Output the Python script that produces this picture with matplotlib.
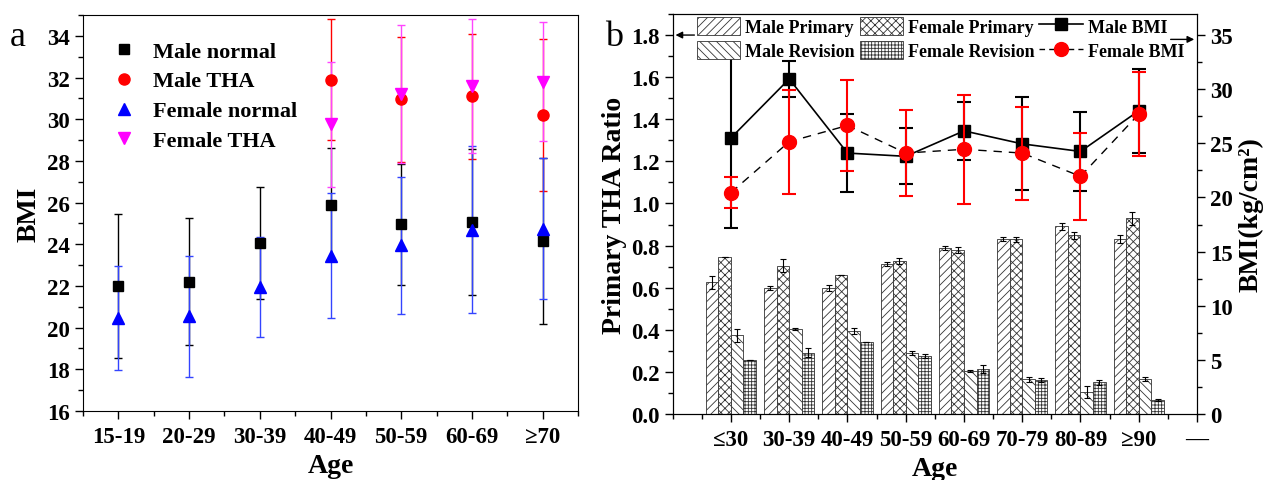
import matplotlib
matplotlib.use('Agg')
import matplotlib.pyplot as plt
from matplotlib.ticker import MultipleLocator
from matplotlib.lines import Line2D
import numpy as np

plt.rcParams['font.family'] = ['Liberation Serif', 'DejaVu Serif']
plt.rcParams['font.weight'] = 'bold'
plt.rcParams['hatch.linewidth'] = 0.6

# ---- panel a data ----
ages_a = ['15-19', '20-29', '30-39', '40-49', '50-59', '60-69', '\u226570']
male_normal = [22.0, 22.2, 24.05, 25.9, 24.95, 25.05, 24.15]
male_normal_err = [3.45, 3.05, 2.7, 2.7, 2.9, 3.5, 4.0]
male_tha = [31.9, 30.95, 31.1, 30.2]
male_tha_err = [2.9, 3.0, 3.0, 3.65]
female_normal = [20.45, 20.55, 21.95, 23.45, 23.95, 24.7, 24.75]
female_normal_err = [2.5, 2.9, 2.4, 3.0, 3.3, 4.0, 3.4]
female_tha = [29.75, 31.2, 31.6, 31.8]
female_tha_err = [3.0, 3.3, 3.2, 2.85]

# ---- panel b data ----
ages_b = ['\u226430', '30-39', '40-49', '50-59', '60-69', '70-79', '80-89', '\u226590', '\u2014']
male_primary = [0.625, 0.598, 0.598, 0.712, 0.788, 0.830, 0.891, 0.831]
male_primary_err = [0.03, 0.01, 0.015, 0.01, 0.01, 0.01, 0.015, 0.02]
female_primary = [0.747, 0.705, 0.658, 0.726, 0.778, 0.830, 0.848, 0.930]
female_primary_err = [0.0, 0.03, 0.0, 0.015, 0.015, 0.012, 0.015, 0.03]
male_revision = [0.374, 0.402, 0.395, 0.29, 0.205, 0.166, 0.105, 0.168]
male_revision_err = [0.03, 0.005, 0.015, 0.01, 0.005, 0.012, 0.03, 0.01]
female_revision = [0.257, 0.292, 0.342, 0.275, 0.214, 0.163, 0.15, 0.066]
female_revision_err = [0.0, 0.02, 0.0, 0.01, 0.02, 0.01, 0.01, 0.005]
male_bmi = [25.5, 30.95, 24.1, 23.8, 26.15, 24.95, 24.25, 28.0]
male_bmi_err = [8.3, 1.65, 3.6, 2.6, 2.7, 4.3, 3.65, 3.9]
female_bmi = [20.45, 25.15, 26.65, 24.1, 24.45, 24.1, 21.95, 27.7]
female_bmi_err = [1.4, 4.8, 4.2, 4.0, 5.05, 4.3, 4.0, 3.9]

fig = plt.figure(figsize=(12.64, 4.81), dpi=100)
ax1 = fig.add_axes([0.0657, 0.1435, 0.3916, 0.8232])
ax2 = fig.add_axes([0.5322, 0.1372, 0.4148, 0.8316])

tick_fs = 16.5
label_fs = 20

# ---------- panel a ----------
xa = np.arange(1, len(ages_a) + 1)
xt = xa[3:]
ax1.errorbar(xa, male_normal, yerr=male_normal_err, fmt='s', color='k', ms=7.5,
             capsize=3, elinewidth=1, capthick=1)
ax1.errorbar(xt, male_tha, yerr=male_tha_err, fmt='o', color='red', ms=8,
             capsize=3, elinewidth=1, capthick=1)
ax1.errorbar(xa, female_normal, yerr=female_normal_err, fmt='^', color='blue', ms=9,
             ecolor='#3344ff', capsize=3, elinewidth=1, capthick=1)
ax1.errorbar(xt, female_tha, yerr=female_tha_err, fmt='v', color='magenta', ms=9,
             ecolor='#ff44ff', capsize=3, elinewidth=1, capthick=1)
ax1.set_xlim(0.5, 7.5)
ax1.set_ylim(16, 35)
ax1.set_xticks(xa)
ax1.set_xticklabels(ages_a)
ax1.xaxis.set_minor_locator(MultipleLocator(0.5))
ax1.yaxis.set_major_locator(MultipleLocator(2))
ax1.yaxis.set_minor_locator(MultipleLocator(1))
ax1.tick_params(which='both', direction='out', top=False, right=False, labelsize=tick_fs)
ax1.tick_params(which='major', length=6, width=1)
ax1.tick_params(which='minor', length=3.5, width=1)
ax1.tick_params(axis='x', pad=5)
ax1.set_xlabel('Age', fontsize=label_fs, fontweight='bold', labelpad=4)
ax1.set_ylabel('BMI', fontsize=label_fs, fontweight='bold', labelpad=4)
leg_a = [
    Line2D([], [], ls='none', marker='s', color='k', ms=7.5),
    Line2D([], [], ls='none', marker='o', color='red', ms=8),
    Line2D([], [], ls='none', marker='^', color='blue', ms=9),
    Line2D([], [], ls='none', marker='v', color='magenta', ms=9),
]
ax1.legend(leg_a, ['Male normal', 'Male THA', 'Female normal', 'Female THA'],
           loc='upper left', bbox_to_anchor=(0.02, 0.985), frameon=False,
           fontsize=16, handlelength=1.0, handletextpad=0.8, labelspacing=0.42,
           numpoints=1)
fig.text(0.008, 0.905, 'a', fontsize=26, fontweight='normal')

# ---------- panel b ----------
xb = np.arange(1, len(male_primary) + 1)
w = 0.215
ekw = dict(elinewidth=0.8, capthick=0.8, ecolor='k')
b1 = ax2.bar(xb - 1.5 * w, male_primary, w, yerr=male_primary_err, capsize=2.5, color='white',
             edgecolor='#333333', linewidth=0.6, hatch='////', error_kw=ekw)
b2 = ax2.bar(xb - 0.5 * w, female_primary, w, yerr=female_primary_err, capsize=2.5, color='white',
             edgecolor='#333333', linewidth=0.6, hatch='xxxx', error_kw=ekw)
b3 = ax2.bar(xb + 0.5 * w, male_revision, w, yerr=male_revision_err, capsize=2.5, color='white',
             edgecolor='#333333', linewidth=0.6, hatch='\\\\\\\\', error_kw=ekw)
b4 = ax2.bar(xb + 1.5 * w, female_revision, w, yerr=female_revision_err, capsize=2.5, color='white',
             edgecolor='#333333', linewidth=0.6, hatch='+++++', error_kw=ekw)
ax2.set_xlim(0, 9)
ax2.set_ylim(0, 1.9)
ax2.set_xticks(np.arange(1, len(ages_b) + 1))
ax2.set_xticklabels(ages_b)
ax2.xaxis.set_minor_locator(MultipleLocator(0.5))
ax2.yaxis.set_major_locator(MultipleLocator(0.2))
ax2.yaxis.set_minor_locator(MultipleLocator(0.1))
ax2.tick_params(which='both', direction='out', top=False, labelsize=tick_fs)
ax2.tick_params(which='major', length=6, width=1)
ax2.tick_params(which='minor', length=3.5, width=1)
ax2.tick_params(axis='x', pad=5)
ax2.set_xlabel('Age', fontsize=label_fs, fontweight='bold', labelpad=4)
ax2.set_ylabel('Primary THA Ratio', fontsize=label_fs, fontweight='bold', labelpad=3)

ax3 = ax2.twinx()
ax3.errorbar(xb, male_bmi, yerr=male_bmi_err, fmt='-s', color='k', ms=9, lw=1.2,
             capsize=5, elinewidth=1.5, capthick=1.5)
ax3.plot(xb, female_bmi, ls=(0, (6, 5)), color='k', lw=1.0, zorder=2)
ax3.errorbar(xb, female_bmi, yerr=female_bmi_err, fmt='o', color='red', ms=10,
             capsize=5, elinewidth=1.5, capthick=1.5, zorder=3)
ax3.set_ylim(0, 1.9 * 35 / 1.8)
ax3.yaxis.set_major_locator(MultipleLocator(5))
ax3.yaxis.set_minor_locator(MultipleLocator(2.5))
ax3.tick_params(which='both', direction='out', labelsize=tick_fs)
ax3.tick_params(which='major', length=6, width=1)
ax3.tick_params(which='minor', length=3.5, width=1)
ax3.set_ylabel('BMI(kg/cm\u00b2)', fontsize=label_fs, fontweight='bold', labelpad=4)

h_male = Line2D([], [], color='k', lw=1.2, marker='s', ms=9)
h_fem = Line2D([], [], color='k', lw=1.0, ls=(0, (4, 3)), marker='o', mfc='red', mec='red', ms=10)
handles = [b1, b3, b2, b4, h_male, h_fem]
labels = ['Male Primary', 'Male Revision', 'Female Primary', 'Female Revision',
          'Male BMI', 'Female BMI']
ax3.legend(handles, labels, loc='upper left', bbox_to_anchor=(0.025, 1.02), ncol=3,
           frameon=False, fontsize=13, handlelength=2.4, handleheight=1.15,
           handletextpad=0.3, columnspacing=0.25, labelspacing=0.3, borderaxespad=0.2)

# axis indicator arrows
ax2.annotate('', xy=(0, 1.8), xytext=(0.42, 1.8),
             arrowprops=dict(arrowstyle='-|>', color='k', lw=1, mutation_scale=10))
ax3.annotate('', xy=(9, 34.6), xytext=(8.5, 34.6),
             arrowprops=dict(arrowstyle='-|>', color='k', lw=1, mutation_scale=10))
fig.text(0.479, 0.905, 'b', fontsize=26, fontweight='normal')

fig.savefig('out.png', dpi=100)
